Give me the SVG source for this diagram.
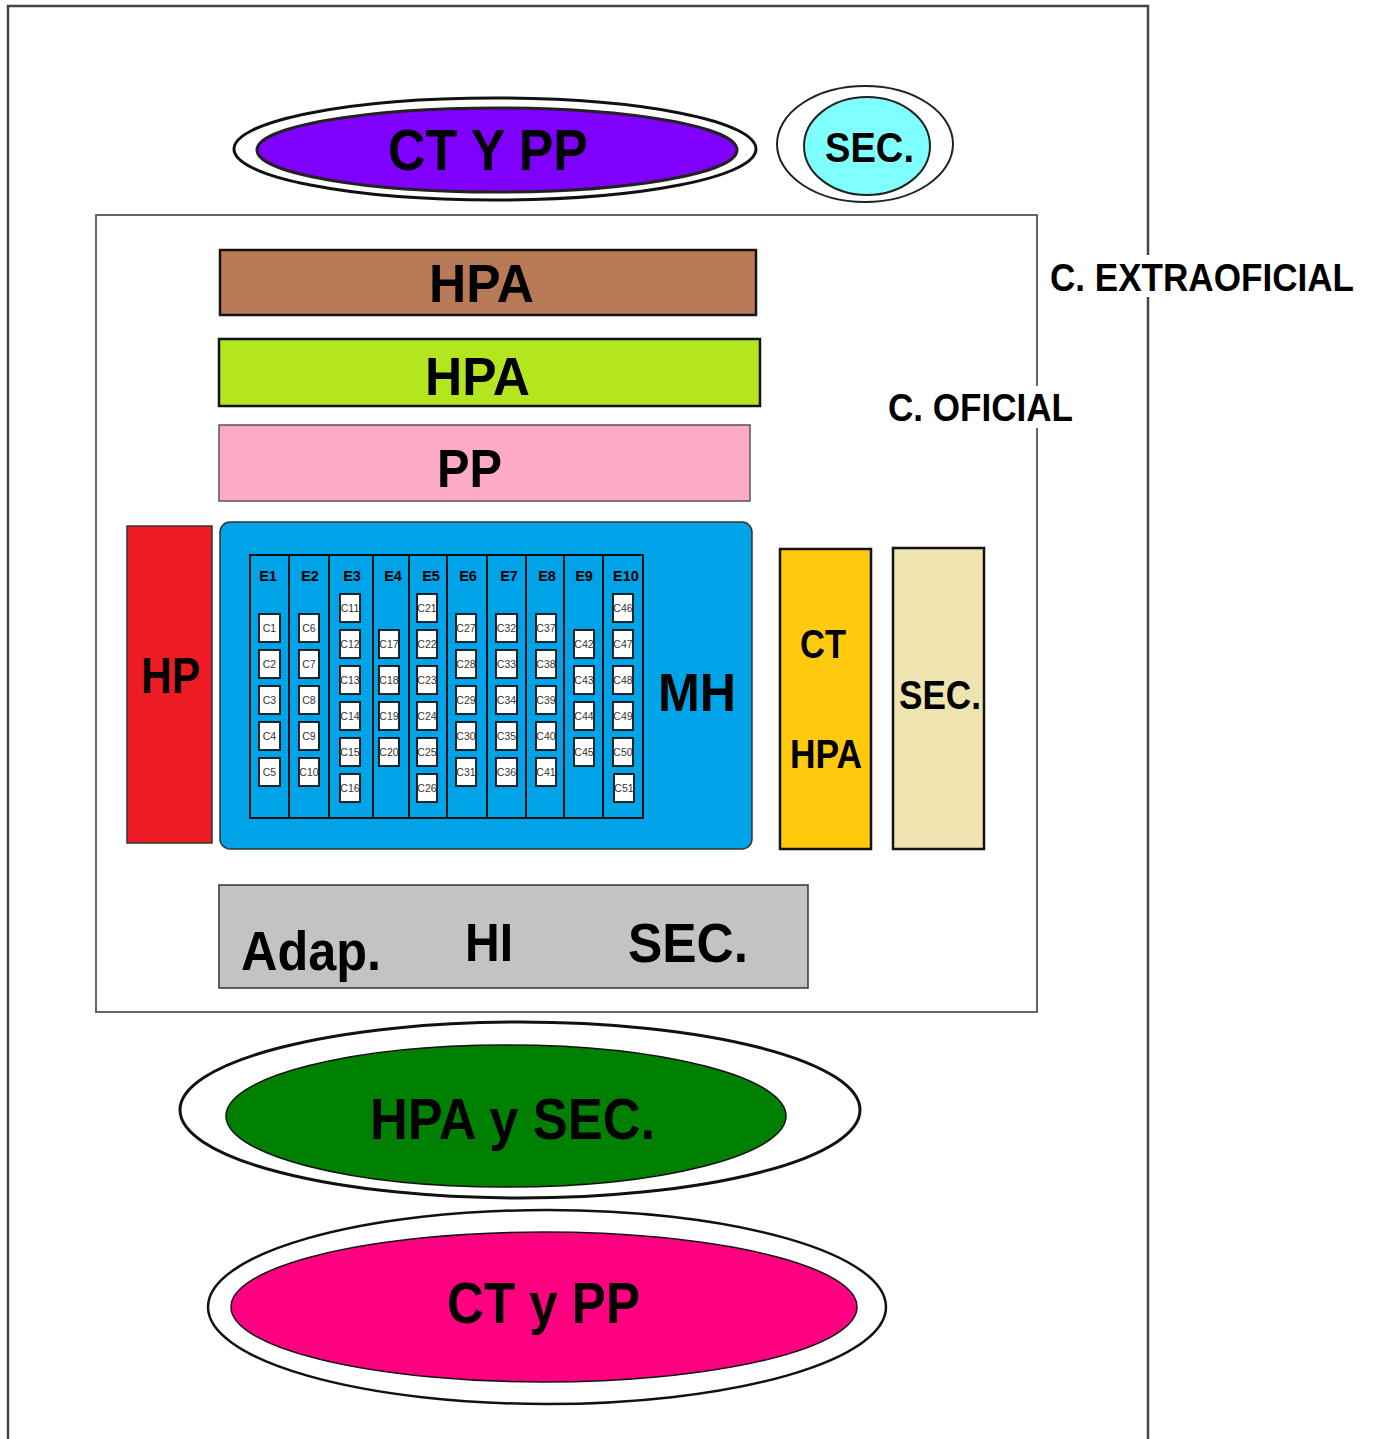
<svg xmlns="http://www.w3.org/2000/svg" width="1376" height="1439" viewBox="0 0 1376 1439">
<style>
text{font-family:"Liberation Sans",Arial,sans-serif;font-weight:bold;fill:#000}
.box{stroke:#111;stroke-width:2.5}
.col{fill:none;stroke:#111;stroke-width:2}
.c rect{fill:#fff;stroke:#111;stroke-width:1.8}
.c text{font-weight:normal;font-size:10.5px;fill:#333;text-anchor:middle}
.e text{font-size:14.5px;text-anchor:middle}
.oe{fill:#fff;stroke:#111;stroke-width:3}
</style>
<rect width="1376" height="1439" fill="#fff"/>
<g id="frame">
<path d="M8 1439 V6 H1148 V1439" fill="none" stroke="#444" stroke-width="2.5"/>
<rect x="96" y="215" width="941" height="797" fill="none" stroke="#555" stroke-width="1.8"/>
</g>
<g id="ct-y-pp-top">
<ellipse cx="495" cy="149" rx="261" ry="51" class="oe"/>
<ellipse cx="497" cy="150" rx="240" ry="42" fill="#8000FF" stroke="#222" stroke-width="3"/>
<text x="388" y="170" font-size="58" textLength="200" lengthAdjust="spacingAndGlyphs">CT Y PP</text>
</g>
<g id="sec-top">
<ellipse cx="865" cy="144" rx="88" ry="58" fill="#fff" stroke="#222" stroke-width="2"/>
<ellipse cx="867" cy="146" rx="63" ry="49" fill="#80FFFF" stroke="#222" stroke-width="2"/>
<text x="825" y="162" font-size="43" textLength="89" lengthAdjust="spacingAndGlyphs">SEC.</text>
</g>
<g id="c-extraoficial">
<rect x="1046" y="255" width="310" height="42" fill="#fff"/>
<text x="1050" y="291" font-size="38" textLength="304" lengthAdjust="spacingAndGlyphs">C. EXTRAOFICIAL</text>
</g>
<g id="c-oficial">
<rect x="884" y="386" width="192" height="42" fill="#fff"/>
<text x="888" y="421" font-size="38" textLength="185" lengthAdjust="spacingAndGlyphs">C. OFICIAL</text>
</g>
<g id="hpa-1">
<rect x="220" y="250" width="536" height="65" fill="#B87A56" class="box"/>
<text x="429" y="302" font-size="53" textLength="105" lengthAdjust="spacingAndGlyphs">HPA</text>
</g>
<g id="hpa-2">
<rect x="219" y="339" width="541" height="67" fill="#B3E61E" class="box"/>
<text x="425" y="395" font-size="54" textLength="105" lengthAdjust="spacingAndGlyphs">HPA</text>
</g>
<g id="pp">
<rect x="219" y="425" width="531" height="76" fill="#FFAAC9" stroke="#555" stroke-width="1.5"/>
<text x="437" y="487" font-size="54" textLength="65" lengthAdjust="spacingAndGlyphs">PP</text>
</g>
<g id="hp">
<rect x="127" y="526" width="85" height="317" fill="#ED1C24" stroke="#333" stroke-width="1.5"/>
<text x="141" y="693" font-size="50" textLength="59" lengthAdjust="spacingAndGlyphs">HP</text>
</g>
<g id="mh">
<rect x="220" y="522" width="532" height="327" rx="10" fill="#00A2E8" stroke="#333" stroke-width="1.5"/>
<text x="658" y="711" font-size="54" textLength="78" lengthAdjust="spacingAndGlyphs">MH</text>
<g id="grid">
<rect x="250" y="555" width="393" height="263" class="col"/>
<path d="M289 555V818M329 555V818M373 555V818M409 555V818M447 555V818M487 555V818M526 555V818M564 555V818M603 555V818" class="col"/>
<g class="e">
<text x="268" y="581">E1</text><text x="310" y="581">E2</text><text x="352" y="581">E3</text><text x="393" y="581">E4</text><text x="431" y="581">E5</text><text x="468" y="581">E6</text><text x="509" y="581">E7</text><text x="547" y="581">E8</text><text x="584" y="581">E9</text><text x="626" y="581">E10</text>
</g>
<g class="c">
<rect x="259" y="614" width="21" height="28"/><text x="269.5" y="632">C1</text>
<rect x="259" y="650" width="21" height="28"/><text x="269.5" y="668">C2</text>
<rect x="259" y="686" width="21" height="28"/><text x="269.5" y="704">C3</text>
<rect x="259" y="722" width="21" height="28"/><text x="269.5" y="740">C4</text>
<rect x="259" y="758" width="21" height="28"/><text x="269.5" y="776">C5</text>
<rect x="299" y="614" width="20" height="28"/><text x="309" y="632">C6</text>
<rect x="299" y="650" width="20" height="28"/><text x="309" y="668">C7</text>
<rect x="299" y="686" width="20" height="28"/><text x="309" y="704">C8</text>
<rect x="299" y="722" width="20" height="28"/><text x="309" y="740">C9</text>
<rect x="299" y="758" width="20" height="28"/><text x="309" y="776">C10</text>
<rect x="340" y="594" width="20" height="28"/><text x="350" y="612">C11</text>
<rect x="340" y="630" width="20" height="28"/><text x="350" y="648">C12</text>
<rect x="340" y="666" width="20" height="28"/><text x="350" y="684">C13</text>
<rect x="340" y="702" width="20" height="28"/><text x="350" y="720">C14</text>
<rect x="340" y="738" width="20" height="28"/><text x="350" y="756">C15</text>
<rect x="340" y="774" width="20" height="28"/><text x="350" y="792">C16</text>
<rect x="379" y="630" width="20" height="28"/><text x="389" y="648">C17</text>
<rect x="379" y="666" width="20" height="28"/><text x="389" y="684">C18</text>
<rect x="379" y="702" width="20" height="28"/><text x="389" y="720">C19</text>
<rect x="379" y="738" width="20" height="28"/><text x="389" y="756">C20</text>
<rect x="417" y="594" width="20" height="28"/><text x="427" y="612">C21</text>
<rect x="417" y="630" width="20" height="28"/><text x="427" y="648">C22</text>
<rect x="417" y="666" width="20" height="28"/><text x="427" y="684">C23</text>
<rect x="417" y="702" width="20" height="28"/><text x="427" y="720">C24</text>
<rect x="417" y="738" width="20" height="28"/><text x="427" y="756">C25</text>
<rect x="417" y="774" width="20" height="28"/><text x="427" y="792">C26</text>
<rect x="456" y="614" width="20" height="28"/><text x="466" y="632">C27</text>
<rect x="456" y="650" width="20" height="28"/><text x="466" y="668">C28</text>
<rect x="456" y="686" width="20" height="28"/><text x="466" y="704">C29</text>
<rect x="456" y="722" width="20" height="28"/><text x="466" y="740">C30</text>
<rect x="456" y="758" width="20" height="28"/><text x="466" y="776">C31</text>
<rect x="496" y="614" width="21" height="28"/><text x="506.5" y="632">C32</text>
<rect x="496" y="650" width="21" height="28"/><text x="506.5" y="668">C33</text>
<rect x="496" y="686" width="21" height="28"/><text x="506.5" y="704">C34</text>
<rect x="496" y="722" width="21" height="28"/><text x="506.5" y="740">C35</text>
<rect x="496" y="758" width="21" height="28"/><text x="506.5" y="776">C36</text>
<rect x="536" y="614" width="20" height="28"/><text x="546" y="632">C37</text>
<rect x="536" y="650" width="20" height="28"/><text x="546" y="668">C38</text>
<rect x="536" y="686" width="20" height="28"/><text x="546" y="704">C39</text>
<rect x="536" y="722" width="20" height="28"/><text x="546" y="740">C40</text>
<rect x="536" y="758" width="20" height="28"/><text x="546" y="776">C41</text>
<rect x="574" y="630" width="20" height="28"/><text x="584" y="648">C42</text>
<rect x="574" y="666" width="20" height="28"/><text x="584" y="684">C43</text>
<rect x="574" y="702" width="20" height="28"/><text x="584" y="720">C44</text>
<rect x="574" y="738" width="20" height="28"/><text x="584" y="756">C45</text>
<rect x="613" y="594" width="20" height="28"/><text x="623" y="612">C46</text>
<rect x="613" y="630" width="20" height="28"/><text x="623" y="648">C47</text>
<rect x="613" y="666" width="20" height="28"/><text x="623" y="684">C48</text>
<rect x="613" y="702" width="20" height="28"/><text x="623" y="720">C49</text>
<rect x="613" y="738" width="20" height="28"/><text x="623" y="756">C50</text>
<rect x="614" y="774" width="20" height="28"/><text x="624" y="792">C51</text>
</g>
</g>
</g>
<g id="ct-hpa">
<rect x="780" y="549" width="91" height="300" fill="#FFC90E" class="box"/>
<text x="800" y="658" font-size="40" textLength="46" lengthAdjust="spacingAndGlyphs">CT</text>
<text x="790" y="768" font-size="40" textLength="72" lengthAdjust="spacingAndGlyphs">HPA</text>
</g>
<g id="sec-side">
<rect x="893" y="548" width="91" height="301" fill="#EFE4B0" class="box"/>
<text x="899" y="709" font-size="40" textLength="82" lengthAdjust="spacingAndGlyphs">SEC.</text>
</g>
<g id="adap-hi-sec">
<rect x="219" y="885" width="589" height="103" fill="#C3C3C3" stroke="#333" stroke-width="1.5"/>
<text x="241" y="970" font-size="56" textLength="140" lengthAdjust="spacingAndGlyphs">Adap.</text>
<text x="465" y="961" font-size="54" textLength="48" lengthAdjust="spacingAndGlyphs">HI</text>
<text x="628" y="962" font-size="55" textLength="120" lengthAdjust="spacingAndGlyphs">SEC.</text>
</g>
<g id="hpa-y-sec">
<ellipse cx="520" cy="1110" rx="340" ry="88" class="oe"/>
<ellipse cx="506" cy="1116" rx="280" ry="71" fill="#008000" stroke="#111" stroke-width="1.5"/>
<text x="370" y="1139" font-size="58" textLength="285" lengthAdjust="spacingAndGlyphs">HPA y SEC.</text>
</g>
<g id="ct-y-pp-bottom">
<ellipse cx="547" cy="1307" rx="339" ry="97" fill="#fff" stroke="#111" stroke-width="2.5"/>
<ellipse cx="544" cy="1307" rx="313" ry="75" fill="#FF0080" stroke="#111" stroke-width="1.5"/>
<text x="447" y="1323" font-size="58" textLength="193" lengthAdjust="spacingAndGlyphs">CT y PP</text>
</g>
</svg>
